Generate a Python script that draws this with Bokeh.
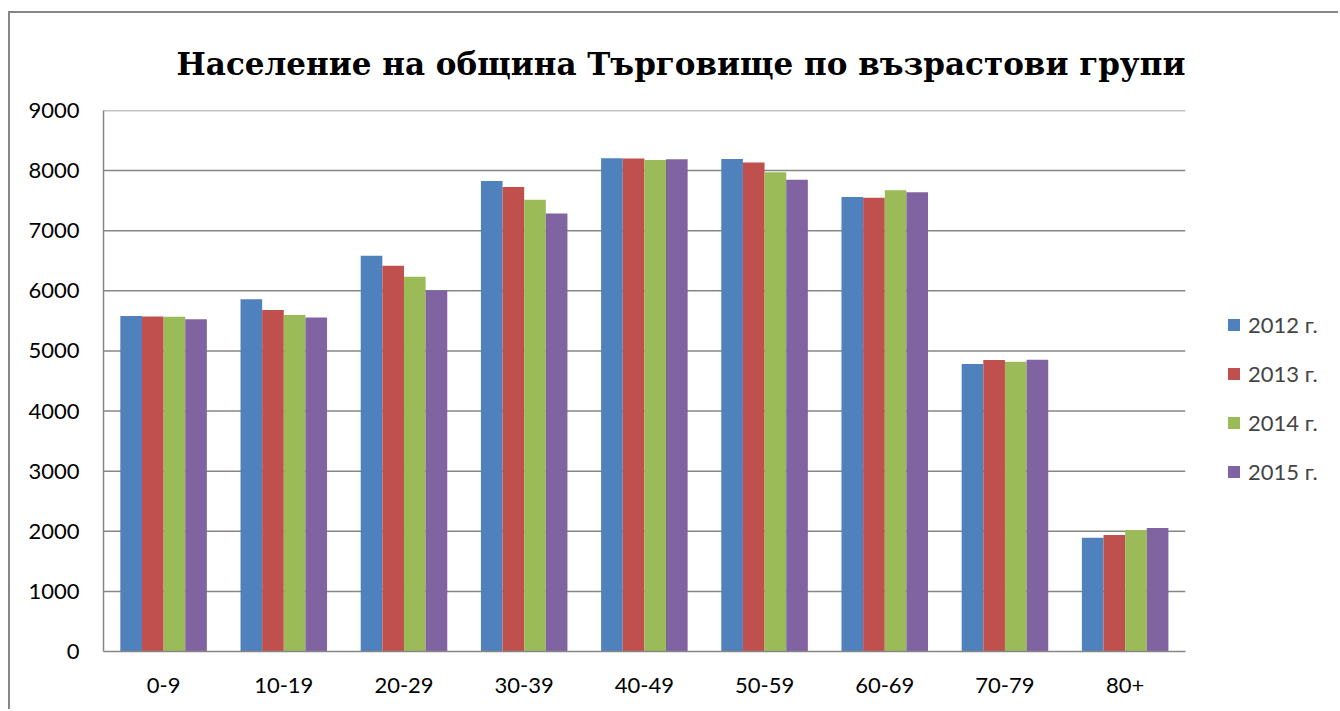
from bokeh.plotting import figure
from bokeh.models import ColumnDataSource, Range1d, Legend, LegendItem, FixedTicker
from bokeh.transform import dodge
from bokeh.embed import file_html
from bokeh.resources import INLINE

categories = ["0-9", "10-19", "20-29", "30-39", "40-49", "50-59", "60-69", "70-79", "80+"]
years = ["2012 г.", "2013 г.", "2014 г.", "2015 г."]
v2012 = [5583, 5862, 6583, 7828, 8205, 8194, 7561, 4783, 1894]
v2013 = [5575, 5683, 6417, 7728, 8200, 8133, 7550, 4850, 1939]
v2014 = [5567, 5600, 6233, 7516, 8178, 7972, 7672, 4822, 2022]
v2015 = [5528, 5555, 6011, 7287, 8189, 7850, 7639, 4855, 2056]
y_ticks = [0, 1000, 2000, 3000, 4000, 5000, 6000, 7000, 8000, 9000]
colors = ["#4F81BD", "#C0504D", "#9BBB59", "#8064A2"]

n = len(categories)
xpos = [i + 0.5 for i in range(n)]
source = ColumnDataSource(data=dict(x=xpos, cat=categories, y2012=v2012, y2013=v2013, y2014=v2014, y2015=v2015))

# layout (page pixels)
W, H = 1328, 696
OX, OY = 12, 14          # canvas origin on the page (margin + border)
FL, FR, FT, FB = 105, 1185, 111, 650
frame_w = OX + W - FL
x_end = n * frame_w / (FR - FL)

p = figure(x_range=Range1d(0, x_end), y_range=Range1d(0, 9000),
           width=W, height=H, output_backend="svg", toolbar_location=None,
           min_border_left=FL - OX, min_border_right=0, min_border_top=FT - OY,
           min_border_bottom=OY + H - FB)
p.styles = {"border-top": "2px solid #868686", "border-left": "2px solid #868686",
            "border-right": "0px none", "box-sizing": "content-box",
            "margin-left": "8px", "margin-top": "11px"}

p.title.text = "Население на община Търговище по възрастови групи"
p.title.text_font = "DejaVu Serif"
p.title.text_font_style = "bold"
p.title.text_font_size = "31px"
p.title.align = "left"
p.title.offset = 73
p.title.standoff = 57
p.title.text_color = "#000000"

# horizontal gridlines only over the category span
grid_y = y_ticks[1:]
p.segment(x0=[0] * len(grid_y), x1=[n] * len(grid_y), y0=grid_y, y1=grid_y,
          line_color="#868686", line_width=1.5)

cols = ["y2012", "y2013", "y2014", "y2015"]
offsets = [-0.27, -0.09, 0.09, 0.27]
renderers = []
for col, off, c in zip(cols, offsets, colors):
    r = p.vbar(x=dodge("x", off), top=col, width=0.18, source=source,
               fill_color=c, line_color=None)
    renderers.append(r)

legend = Legend(items=[LegendItem(label=y, renderers=[r]) for y, r in zip(years, renderers)],
                location=(1228 - FL, FB - 484), orientation="vertical")
legend.border_line_color = None
legend.background_fill_alpha = 0
legend.label_text_font = "Lato"
legend.label_text_font_size = "22px"
legend.glyph_width = 15
legend.glyph_height = 15
legend.label_height = 20
legend.spacing = 22
legend.padding = 0
legend.margin = 0
legend.label_standoff = 7
p.add_layout(legend)

p.outline_line_color = None
p.xgrid.grid_line_color = None
p.ygrid.grid_line_color = None
p.yaxis.ticker = FixedTicker(ticks=y_ticks)
p.xaxis.ticker = FixedTicker(ticks=xpos)
p.xaxis.major_label_overrides = {x: c for x, c in zip(xpos, categories)}
p.xaxis.bounds = (0, n)
for ax in (p.xaxis[0], p.yaxis[0]):
    ax.axis_line_color = "#868686"
    ax.axis_line_width = 1.5
    ax.major_tick_line_color = None
    ax.minor_tick_line_color = None
    ax.major_label_text_font = "Lato"
    ax.major_label_text_font_size = "22px"
    ax.major_label_text_color = "#000000"
p.yaxis.major_label_standoff = 18
p.xaxis.major_label_standoff = 20

open("out.html", "w").write(file_html(p, INLINE))
